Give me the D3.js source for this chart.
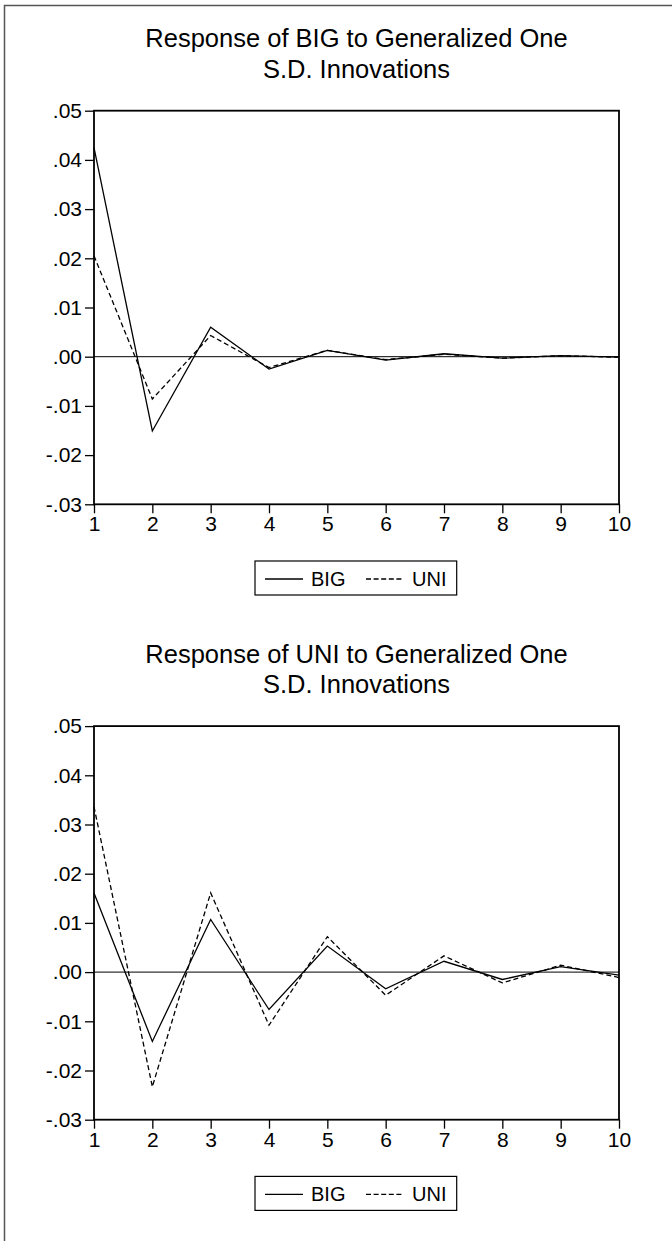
<!DOCTYPE html>
<html>
<head>
<meta charset="utf-8">
<script src="https://cdn.jsdelivr.net/npm/d3@7/dist/d3.min.js"></script>
<style>
  html, body { margin: 0; padding: 0; background: #fff; }
  svg { display: block; font-family: "Liberation Sans", Arial, sans-serif; }
</style>
</head>
<body>
<svg id="chart" width="672" height="1241"></svg>
<script>
// ---- data ----
const periods = [1, 2, 3, 4, 5, 6, 7, 8, 9, 10];
const seriesNames = ["BIG", "UNI"];
const titlesBig = ["Response of BIG to Generalized One", "S.D. Innovations"];
const titlesUni = ["Response of UNI to Generalized One", "S.D. Innovations"];
// Response of BIG
const bigToBig = [0.0425, -0.0151, 0.0060, -0.0025, 0.0013, -0.0007, 0.0006, -0.0003, 0.0002, -0.0001];
const bigToUni = [0.0205, -0.0086, 0.0043, -0.0022, 0.0013, -0.0006, 0.0005, -0.0003, 0.0002, -0.0001];
// Response of UNI
const uniToBig = [0.0161, -0.0141, 0.0107, -0.0076, 0.0053, -0.0034, 0.0022, -0.0015, 0.0011, -0.0006];
const uniToUni = [0.0336, -0.0233, 0.0161, -0.0108, 0.0072, -0.0047, 0.0033, -0.0022, 0.0014, -0.0011];
const yTicks = [0.05, 0.04, 0.03, 0.02, 0.01, 0.00, -0.01, -0.02, -0.03];
const yTickLabels = [".05", ".04", ".03", ".02", ".01", ".00", "-.01", "-.02", "-.03"];
const yDomain = [-0.03, 0.05];

// ---- layout ----
const svg = d3.select("#chart");
const plotLeft = 94, plotRight = 619, plotH = 393.6;
const panelTops = [110.7, 726.1];

// outer frame (only top/left visible)
svg.append("rect")
  .attr("x", 4.5).attr("y", 5.5)
  .attr("width", 800).attr("height", 1400)
  .attr("fill", "none").attr("stroke", "#555").attr("stroke-width", 1.5);

const panels = [
  { titles: titlesBig, data: [bigToBig, bigToUni] },
  { titles: titlesUni, data: [uniToBig, uniToUni] }
];

panels.forEach((p, i) => {
  const top = panelTops[i];
  const g = svg.append("g").attr("transform", `translate(0,${top})`);
  const x = d3.scaleLinear().domain([1, 10]).range([plotLeft, plotRight]);
  const y = d3.scaleLinear().domain(yDomain).range([plotH, 0]);

  // title
  p.titles.forEach((t, k) => {
    g.append("text")
      .attr("x", (plotLeft + plotRight) / 2)
      .attr("y", -63.4 + k * 30.6)
      .attr("text-anchor", "middle")
      .attr("font-size", 25.5)
      .attr("fill", "#000")
      .text(t);
  });

  // zero line
  g.append("line")
    .attr("x1", plotLeft).attr("x2", plotRight)
    .attr("y1", y(0)).attr("y2", y(0))
    .attr("stroke", "#000").attr("stroke-width", 1);

  // series lines
  const line = d3.line().x((d, j) => x(periods[j])).y(d => y(d));
  p.data.forEach((vals, s) => {
    g.append("path")
      .datum(vals)
      .attr("d", line)
      .attr("fill", "none")
      .attr("stroke", "#000")
      .attr("stroke-width", 1.3)
      .attr("stroke-dasharray", s === 1 ? "5,3" : null);
  });

  // frame
  g.append("rect")
    .attr("x", plotLeft).attr("y", 0)
    .attr("width", plotRight - plotLeft).attr("height", plotH)
    .attr("fill", "none").attr("stroke", "#000").attr("stroke-width", 1.8);

  // axes
  const yAxis = d3.axisLeft(y)
    .tickValues(yTicks)
    .tickFormat((d, k) => yTickLabels[k])
    .tickSize(9).tickPadding(3);
  const ya = g.append("g").attr("transform", `translate(${plotLeft},0)`).call(yAxis);
  const xAxis = d3.axisBottom(x)
    .tickValues(periods)
    .tickFormat(d3.format("d"))
    .tickSize(9).tickPadding(3);
  const xa = g.append("g").attr("transform", `translate(0,${plotH})`).call(xAxis);
  [ya, xa].forEach(a => {
    a.select(".domain").remove();
    a.selectAll(".tick line").attr("stroke", "#000").attr("stroke-width", 1.3);
    a.selectAll(".tick text").attr("font-size", 21).attr("fill", "#000")
      .attr("font-family", "'Liberation Sans', Arial, sans-serif");
  });

  // legend
  const lg = g.append("g").attr("transform", `translate(0,${plotH})`);
  const lx = 255, ly = 56.7, lw = 201.7, lh = 34;
  lg.append("rect")
    .attr("x", lx).attr("y", ly).attr("width", lw).attr("height", lh)
    .attr("fill", "#fff").attr("stroke", "#000").attr("stroke-width", 1.2);
  const items = [
    { name: seriesNames[0], x0: 265, x1: 303, tx: 311, dash: null },
    { name: seriesNames[1], x0: 366, x1: 404, tx: 412, dash: "5,2.6" }
  ];
  items.forEach(it => {
    lg.append("line")
      .attr("x1", it.x0).attr("x2", it.x1)
      .attr("y1", ly + 18).attr("y2", ly + 18)
      .attr("stroke", "#000").attr("stroke-width", 1.3)
      .attr("stroke-dasharray", it.dash);
    lg.append("text")
      .attr("x", it.tx).attr("y", ly + 25)
      .attr("font-size", 20)
      .attr("fill", "#000")
      .text(it.name);
  });
});
</script>
</body>
</html>
